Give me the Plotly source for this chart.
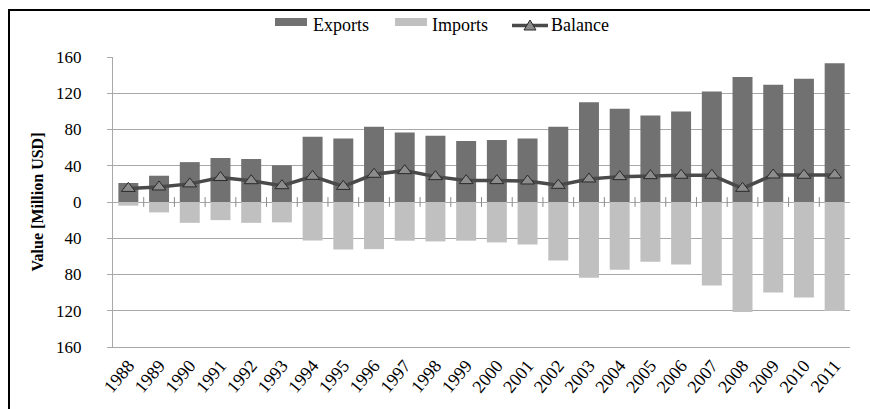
import plotly.graph_objects as go

# Trade values, million USD
years = [str(y) for y in range(1988, 2012)]
exports = [21, 29, 44, 48.5, 47.5, 40.5, 72, 70, 83, 76.6, 73, 67.4,
           68.5, 70, 83, 110, 103, 95.4, 99.8, 122, 138, 129.3, 136, 153]
imports = [-4, -11.5, -23, -20, -23, -22.5, -42.5, -52.4, -52, -42.7, -43.5, -42.7,
           -44.6, -46.8, -64.5, -83.6, -74.8, -66, -68.9, -92, -121.5, -99.8, -105.3, -120.4]
balance = [15, 16.6, 20, 27, 23.5, 18, 28.3, 17.2, 30.6, 34.6, 28, 23.6,
           23.6, 23.2, 18.4, 25.4, 28, 29.1, 29.5, 29.5, 15.1, 29.8, 29.5, 29.8]
y_ticks = [-160, -120, -80, -40, 0, 40, 80, 120, 160]

W, H = 870, 409
L, R, T, B = 113, 20, 57, 62
PW, PH = W - L - R, H - T - B

EXP_COL = "#717171"
IMP_COL = "#c0c0c0"
BAL_LINE = "#4a4a4a"
BAL_FILL = "#8c8c8c"
GRID = "#a8a8a8"
FONT = "Liberation Serif"


def px(x):
    return (x - L) / PW


def py(y):
    return (H - B - y) / PH


def serif(size, color="black"):
    return dict(family=FONT, size=size, color=color)


n = len(years)
# category boundaries along the zero line (between neighbouring years)
boundaries = [i + 0.5 for i in range(n - 1)]

fig = go.Figure()
fig.add_trace(go.Bar(x=years, y=exports, name="Exports", marker_color=EXP_COL,
                     marker_line_width=0, showlegend=False))
fig.add_trace(go.Bar(x=years, y=imports, name="Imports", marker_color=IMP_COL,
                     marker_line_width=0, showlegend=False))
fig.add_trace(go.Scatter(x=boundaries, y=[0] * len(boundaries), xaxis="x2", yaxis="y",
                         mode="markers", showlegend=False, hoverinfo="skip",
                         marker=dict(symbol="line-ns", size=7,
                                     line=dict(color="#8a8a8a", width=1))))
fig.add_trace(go.Scatter(x=years, y=balance, name="Balance", mode="lines+markers",
                         line=dict(color=BAL_LINE, width=3.5),
                         marker=dict(symbol="triangle-up", size=12, color=BAL_FILL,
                                     line=dict(color="#2a2a2a", width=1)),
                         showlegend=False))

shapes = [
    # outer frame
    dict(type="rect", xref="paper", yref="paper", x0=px(9), x1=px(890), y0=py(430), y1=py(10),
         line=dict(color="black", width=2), fillcolor="rgba(0,0,0,0)", layer="above"),
    # legend swatches
    dict(type="rect", xref="paper", yref="paper", x0=px(275), x1=px(307), y0=py(26), y1=py(18),
         fillcolor=EXP_COL, line_width=0),
    dict(type="rect", xref="paper", yref="paper", x0=px(395), x1=px(427), y0=py(26), y1=py(18),
         fillcolor=IMP_COL, line_width=0),
    dict(type="line", xref="paper", yref="paper", x0=px(512), x1=px(548), y0=py(25.5), y1=py(25.5),
         line=dict(color=BAL_LINE, width=3.5)),
    dict(type="path", xref="paper", yref="paper",
         path=f"M {px(524)},{py(30)} L {px(536)},{py(30)} L {px(530)},{py(20)} Z",
         fillcolor=BAL_FILL, line=dict(color="#2a2a2a", width=1)),
]

annotations = [
    dict(text=t, x=px(x0), y=py(25), xref="paper", yref="paper", xanchor="left",
         yanchor="middle", showarrow=False, font=serif(18))
    for t, x0 in [("Exports", 311), ("Imports", 430), ("Balance", 549)]
]

fig.update_layout(
    width=W, height=H,
    margin=dict(l=L, r=R, t=T, b=B),
    paper_bgcolor="white", plot_bgcolor="white",
    barmode="relative", bargap=0.35,
    font=serif(16),
    shapes=shapes, annotations=annotations,
    xaxis=dict(type="category", tickangle=-50, showgrid=False, showline=True,
               linecolor=GRID, linewidth=1, ticks="", tickfont=serif(18),
               range=[-0.5, n - 0.5]),
    xaxis2=dict(type="linear", overlaying="x", range=[-0.5, n - 0.5], visible=False),
    yaxis=dict(range=[-160, 160], tickvals=y_ticks, ticktext=[str(abs(v)) for v in y_ticks],
               showgrid=True, gridcolor=GRID, gridwidth=1, zeroline=False,
               showline=True, linecolor=GRID, linewidth=1,
               ticks="outside", ticklen=5, tickcolor=GRID, ticklabelstandoff=22,
               tickfont=serif(17),
               title=dict(text="<b>Value [Million USD]</b>", standoff=8,
                          font=serif(16))),
)

fig.write_html("out.html")
